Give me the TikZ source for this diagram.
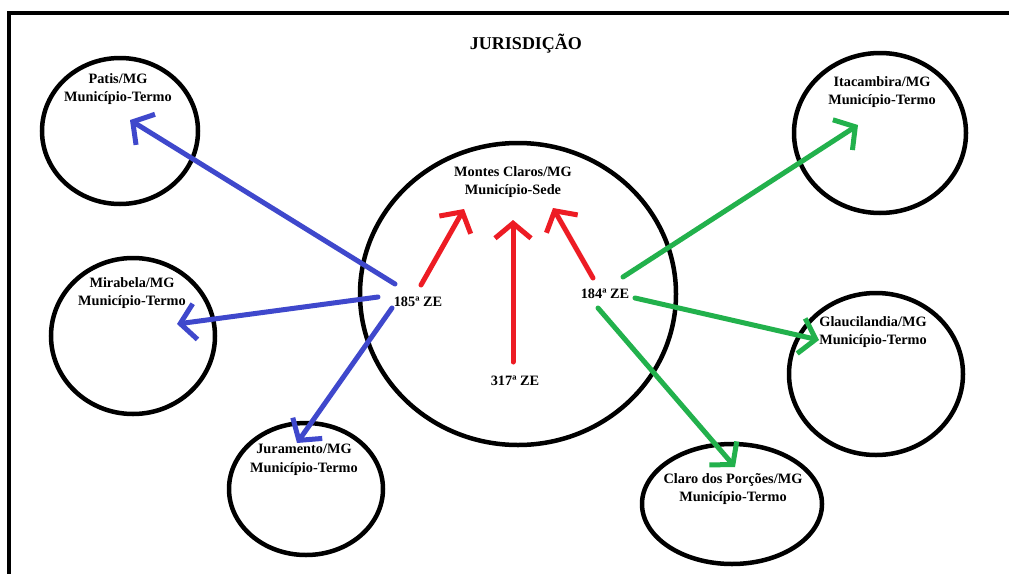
\documentclass[tikz,border=0pt]{standalone}
\usepackage{fontspec}
\setmainfont{Liberation Serif}
\usetikzlibrary{arrows.meta,shapes.geometric}
\definecolor{pblue}{RGB}{63,72,204}
\definecolor{pgreen}{RGB}{34,177,76}
\definecolor{pred}{RGB}{237,28,36}
\begin{document}
\begin{tikzpicture}[x=1pt,y=-1pt,
  ring/.style={draw=black,line width=4.5pt,ellipse,inner sep=0pt},
  lbl/.style={font=\fontsize{14.3}{18.5}\selectfont\bfseries,align=center,inner sep=0pt},
  ttl/.style={font=\fontsize{18}{20}\selectfont\bfseries,inner sep=0pt},
  arr/.style={line width=5pt,line cap=round,-{Straight Barb[length=15pt,width=36pt]}},
  barr/.style={arr,draw=pblue},
  rarr/.style={arr,draw=pred},
  garr/.style={arr,draw=pgreen}]
\useasboundingbox (0,0) rectangle (1009,573);
\fill[white] (0,0) rectangle (1009,573);
% frame
\draw[line width=4pt] (9,575) -- (9,13) -- (1012,13);
% title
\node[ttl] (title) at (526,44) {JURISDIÇÃO};
% circles
\node[ring,minimum width=156pt,minimum height=146pt] (patis) at (120,131) {};
\node[ring,minimum width=164pt,minimum height=156pt] (mira) at (133,336) {};
\node[ring,minimum width=154pt,minimum height=132pt] (jura) at (306,489) {};
\node[ring,minimum width=316pt,minimum height=302pt] (mc) at (518,294) {};
\node[ring,minimum width=172pt,minimum height=160pt] (itac) at (880,133) {};
\node[ring,minimum width=174pt,minimum height=162pt] (glau) at (876,374) {};
\node[ring,minimum width=180pt,minimum height=120pt] (claro) at (732,504) {};
% texts
\node[lbl] (tpatis) at (118,89) {Patis/MG\\Município-Termo};
\node[lbl] (tmira) at (132,293) {Mirabela/MG\\Município-Termo};
\node[lbl] (tjura) at (304,460) {Juramento/MG\\Município-Termo};
\node[lbl] (tmc) at (513,182) {Montes Claros/MG\\Município-Sede};
\node[lbl] (titac) at (882,92) {Itacambira/MG\\Município-Termo};
\node[lbl] (tglau) at (873,332) {Glaucilandia/MG\\Município-Termo};
\node[lbl] (tclaro) at (733,489) {Claro dos Porções/MG\\Município-Termo};
\node[lbl] (z185) at (418,302) {185ª ZE};
\node[lbl] (z184) at (605,294) {184ª ZE};
\node[lbl] (z317) at (515,381) {317ª ZE};
% arrow end points
\coordinate (b1s) at (395,284); \coordinate (b1e) at (130,120);
\coordinate (b2s) at (378,297); \coordinate (b2e) at (177,324);
\coordinate (b3s) at (392,308); \coordinate (b3e) at (297,443);
\coordinate (r1s) at (421,285); \coordinate (r1e) at (464,209);
\coordinate (r2s) at (513,362); \coordinate (r2e) at (513,220);
\coordinate (r3s) at (593,278); \coordinate (r3e) at (553,208);
\coordinate (g1s) at (623,277); \coordinate (g1e) at (858,125);
\coordinate (g2s) at (635,298); \coordinate (g2e) at (819,340);
\coordinate (g3s) at (598,308); \coordinate (g3e) at (735,467);
% arrows
\draw[barr] (b1s) -- (b1e);
\draw[barr] (b2s) -- (b2e);
\draw[barr] (b3s) -- (b3e);
\draw[rarr] (r1s) -- (r1e);
\draw[rarr] (r2s) -- (r2e);
\draw[rarr] (r3s) -- (r3e);
\draw[garr] (g1s) -- (g1e);
\draw[garr] (g2s) -- (g2e);
\draw[garr] (g3s) -- (g3e);
\end{tikzpicture}
\end{document}
